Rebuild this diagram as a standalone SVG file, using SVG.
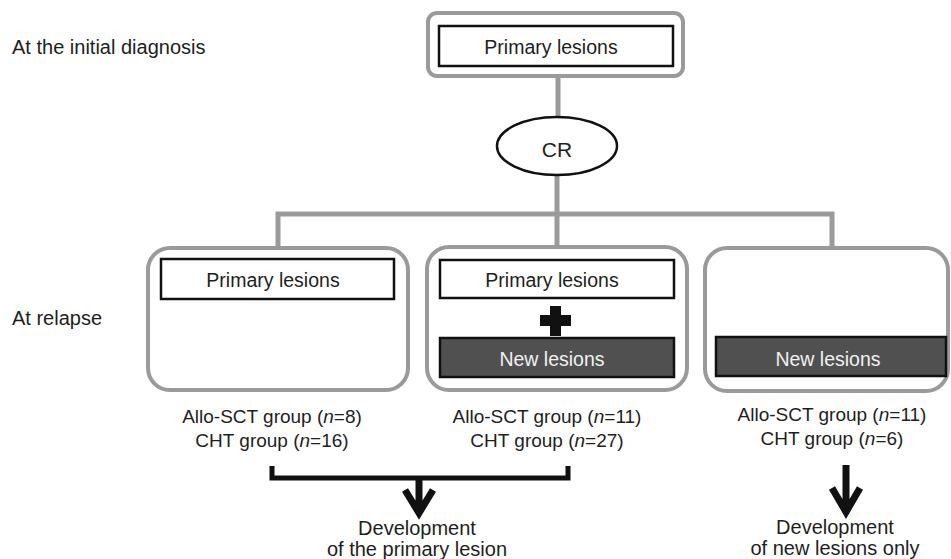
<svg xmlns="http://www.w3.org/2000/svg" width="951" height="559" viewBox="0 0 951 559">
<style>
  text { font-family: "Liberation Sans", Arial, sans-serif; fill: #1e1e1e; }
  .lbl { font-size: 20px; }
  .box { font-size: 19.5px; text-anchor: middle; }
  .grp { font-size: 19px; text-anchor: middle; }
  .dev { font-size: 20px; text-anchor: middle; }
  .outer { fill: #ffffff; stroke: #9a9a9a; stroke-width: 4; }
  .inner { fill: #ffffff; stroke: #111111; stroke-width: 2.5; }
  .dark { fill: #505050; stroke: #111111; stroke-width: 2.5; }
  .darktxt { fill: #f0f0f0; font-size: 19.5px; text-anchor: middle; }
  .gline { fill: none; stroke: #9a9a9a; stroke-width: 5; }
  .bline { fill: none; stroke: #111111; stroke-width: 5; }
  .arrow { fill: none; stroke: #111111; stroke-width: 7; stroke-linejoin: miter; }
</style>

<g id="labels">
  <text class="lbl" x="12" y="54">At the initial diagnosis</text>
  <text class="lbl" x="12" y="325">At relapse</text>
</g>

<g id="connectors">
  <path class="gline" d="M558 76 V117"/>
  <path class="gline" d="M557 175 V214"/>
  <path class="gline" d="M278 248 V214 H832 V248"/>
  <path class="gline" d="M557 214 V247"/>
  <path class="bline" d="M272 466 V478 H568 V466"/>
  <path class="arrow" d="M419 478 V511 M405 490 L419 513 L433 490"/>
  <path class="arrow" d="M846 465 V510 M832 488 L846 512 L860 488"/>
</g>

<g id="initial">
  <rect class="outer" x="428" y="13" width="255" height="63" rx="9"/>
  <rect class="inner" x="439" y="26" width="234" height="40"/>
  <text class="box" x="551" y="54">Primary lesions</text>
</g>

<g id="cr">
  <ellipse cx="557" cy="146" rx="60" ry="29" fill="#ffffff" stroke="#111111" stroke-width="2.5"/>
  <text x="557" y="157" font-size="21" text-anchor="middle">CR</text>
</g>

<g id="relapse-primary">
  <rect class="outer" x="148" y="248" width="260" height="142" rx="22"/>
  <rect class="inner" x="161" y="259" width="233" height="40"/>
  <text class="box" x="273" y="287">Primary lesions</text>
  <text class="grp" x="272" y="423">Allo-SCT group (<tspan font-style="italic">n</tspan>=8)</text>
  <text class="grp" x="272" y="447">CHT group (<tspan font-style="italic">n</tspan>=16)</text>
</g>

<g id="relapse-both">
  <rect class="outer" x="427" y="247" width="260" height="143" rx="22"/>
  <rect class="inner" x="440" y="260" width="234" height="38"/>
  <text class="box" x="552" y="287">Primary lesions</text>
  <path d="M550 306 H561 V315 H571 V326 H561 V336 H550 V326 H540 V315 H550 Z" fill="#111111"/>
  <rect class="dark" x="440" y="338" width="234" height="39"/>
  <text class="darktxt" x="552" y="366">New lesions</text>
  <text class="grp" x="547" y="423">Allo-SCT group (<tspan font-style="italic">n</tspan>=11)</text>
  <text class="grp" x="547" y="447">CHT group (<tspan font-style="italic">n</tspan>=27)</text>
</g>

<g id="relapse-new">
  <rect class="outer" x="705" y="248" width="243" height="143" rx="22"/>
  <rect class="dark" x="716" y="337" width="230" height="39"/>
  <text class="darktxt" x="828" y="366">New lesions</text>
  <text class="grp" x="832" y="421">Allo-SCT group (<tspan font-style="italic">n</tspan>=11)</text>
  <text class="grp" x="832" y="445">CHT group (<tspan font-style="italic">n</tspan>=6)</text>
</g>

<g id="outcome-primary">
  <text class="dev" x="417" y="535">Development</text>
  <text class="dev" x="417" y="556">of the primary lesion</text>
</g>

<g id="outcome-new">
  <text class="dev" x="835" y="534">Development</text>
  <text class="dev" x="835" y="555">of new lesions only</text>
</g>
</svg>
